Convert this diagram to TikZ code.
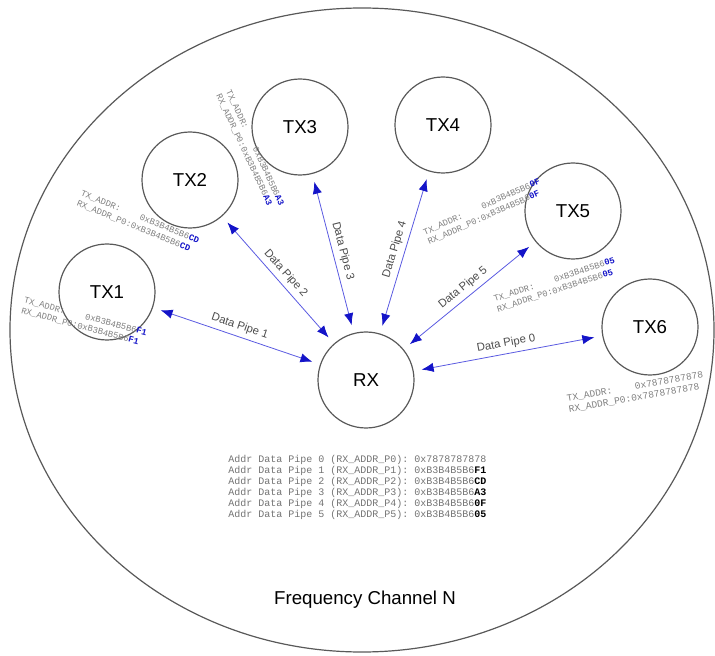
\documentclass[tikz,border=0pt]{standalone}
\usepackage{fontspec}
\setmainfont{Liberation Sans}
\setmonofont{Liberation Mono}
\usetikzlibrary{arrows.meta}

\definecolor{pipeblue}{RGB}{90,90,225}
\definecolor{tipblue}{RGB}{20,20,200}
\newcommand{\lastbyte}[1]{\textcolor{tipblue}{\textbf{#1}}}

\begin{document}
\begin{tikzpicture}[x=0.75pt, y=0.75pt,
  station/.style={circle, draw=black!65, line width=0.9pt, minimum size=72pt, inner sep=0pt, font=\fontsize{14}{14}\selectfont},
  pipe/.style={{Latex[length=9pt,width=7pt,color=tipblue]}-{Latex[length=9pt,width=7pt,color=tipblue]}, draw=pipeblue, line width=0.6pt, shorten >=6pt, shorten <=6pt},
  pipelabel/.style={font=\fontsize{8.5}{9}\selectfont, text=black!70, midway, sloped, above},
  addr/.style={font=\ttfamily\fontsize{6.6}{8}\selectfont, text=black!50, align=left, inner sep=0pt},
  table/.style={font=\ttfamily\fontsize{7.5}{8}\selectfont, text=black!55, anchor=west, inner sep=0pt}]
  \useasboundingbox (0,0) rectangle (715,-656);
  \draw[black!65, line width=0.9pt] (362,-330) ellipse (352 and 322);

  \node[station] (rx) at (366,-380) {RX};
  \foreach \n/\x/\y in {1/107/292, 2/190/180, 3/300/127, 4/443/125, 5/573/211, 6/650/327}{
    \node[station] (tx\n) at (\x,-\y) {TX\n};
  }
  \foreach \n/\p in {1/1, 2/2, 3/3, 4/4, 5/5, 6/0}{
    \draw[pipe] (rx) -- (tx\n) node[pipelabel] (lbl\n) {Data Pipe \p};
  }

  \node[addr, rotate=-15] (addr1) at (84,-322) {TX\_ADDR:\ \ \ \ 0xB3B4B5B6\lastbyte{F1}\\RX\_ADDR\_P0:0xB3B4B5B6\lastbyte{F1}};
  \node[addr, rotate=-22] (addr2) at (138,-222) {TX\_ADDR:\ \ \ \ 0xB3B4B5B6\lastbyte{CD}\\RX\_ADDR\_P0:0xB3B4B5B6\lastbyte{CD}};
  \node[addr, rotate=-65] (addr3) at (250,-150) {TX\_ADDR:\ \ \ \ 0xB3B4B5B6\lastbyte{A3}\\RX\_ADDR\_P0:0xB3B4B5B6\lastbyte{A3}};
  \node[addr, rotate=24] (addr4) at (484,-212) {TX\_ADDR:\ \ \ \ 0xB3B4B5B6\lastbyte{0F}\\RX\_ADDR\_P0:0xB3B4B5B6\lastbyte{0F}};
  \node[addr, rotate=18] (addr5) at (556,-285) {TX\_ADDR:\ \ \ \ 0xB3B4B5B6\lastbyte{05}\\RX\_ADDR\_P0:0xB3B4B5B6\lastbyte{05}};
  \node[addr, rotate=10, font=\ttfamily\fontsize{7.2}{8.6}\selectfont] (addr6) at (636,-392) {TX\_ADDR:\ \ \ \ 0x7878787878\\RX\_ADDR\_P0:0x7878787878};

  \foreach \i/\b/\c in {0/7878787878/, 1/B3B4B5B6/F1, 2/B3B4B5B6/CD, 3/B3B4B5B6/A3, 4/B3B4B5B6/0F, 5/B3B4B5B6/05}{
    \node[table] (row\i) at (228,-460-11*\i) {Addr Data Pipe \i\ (RX\_ADDR\_P\i): 0x\b\textcolor{black}{\textbf{\c}}};
  }

  \node[font=\fontsize{14}{14}\selectfont] (chan) at (365,-600) {Frequency Channel N};
\end{tikzpicture}
\end{document}
